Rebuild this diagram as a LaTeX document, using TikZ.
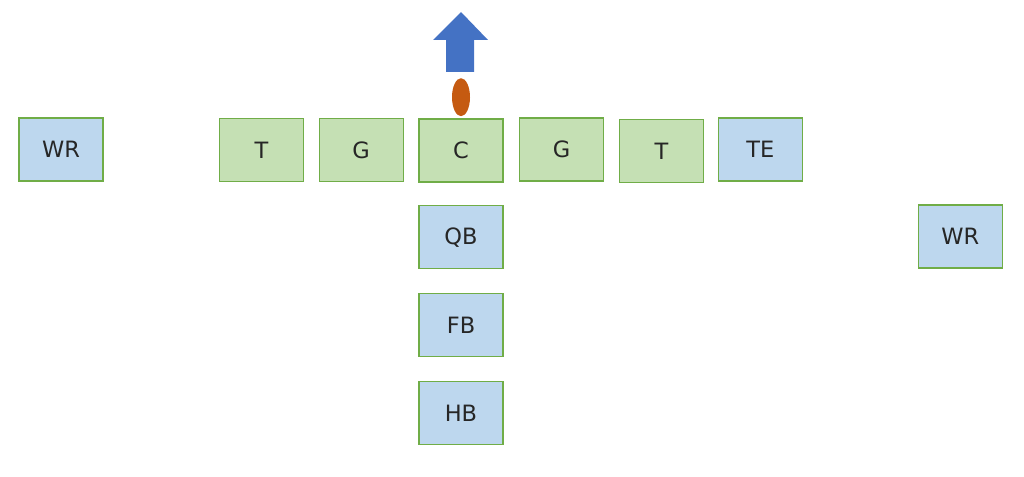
\documentclass[tikz,border=0pt]{standalone}
\usepackage{fontspec}
\setmainfont{DejaVu Sans}
\usepackage{xcolor}
\usetikzlibrary{positioning, shapes.geometric}
\definecolor{linegreen}{RGB}{112,173,71}
\definecolor{linefill}{RGB}{197,224,180}
\definecolor{backfill}{RGB}{189,215,238}
\definecolor{arrowblue}{RGB}{68,114,196}
\definecolor{ballorange}{RGB}{197,90,17}

\begin{document}
\begin{tikzpicture}[x=1cm, y=1cm,
        every node/.style={font=\fontsize{16}{18}\selectfont},
        player/.style={draw=linegreen, line width=0.9pt, minimum width=2.1cm, minimum height=1.575cm,
            inner sep=0pt, text height=11.7pt, text depth=0pt, text=black!85},
        lineman/.style={player, fill=linefill},
        back/.style={player, fill=backfill}]
            \useasboundingbox (0,0) rectangle (25.6,-11.925);
            % line of scrimmage
            \node[back] (wrl) at (1.525,-3.74) {WR};
            \node[lineman] (tl) at (6.54,-3.75) {T};
            \node[lineman] (gl) at (9.03,-3.75) {G};
            \node[lineman] (c) at (11.525,-3.76) {C};
            \node[lineman] (gr) at (14.04,-3.74) {G};
            \node[lineman] (tr) at (16.54,-3.775) {T};
            \node[back] (te) at (19.01,-3.74) {TE};
            % backfield
            \node[back, below=0.55cm of c] (qb) {QB};
            \node[back, below=0.6cm of qb] (fb) {FB};
            \node[back, below=0.6cm of fb] (hb) {HB};
            \node[back] (wrr) at (24.01,-5.91) {WR};
            % ball and direction
            \node[ellipse, fill=ballorange, minimum width=0.45cm, minimum height=0.95cm, inner sep=0pt] (ball) at (11.525,-2.43) {};
            \fill[arrowblue] (11.525,-0.3) -- (12.2,-1.0) -- (11.85,-1.0) -- (11.85,-1.8)
                -- (11.15,-1.8) -- (11.15,-1.0) -- (10.83,-1.0) -- cycle;
        \end{tikzpicture}
\end{document}
